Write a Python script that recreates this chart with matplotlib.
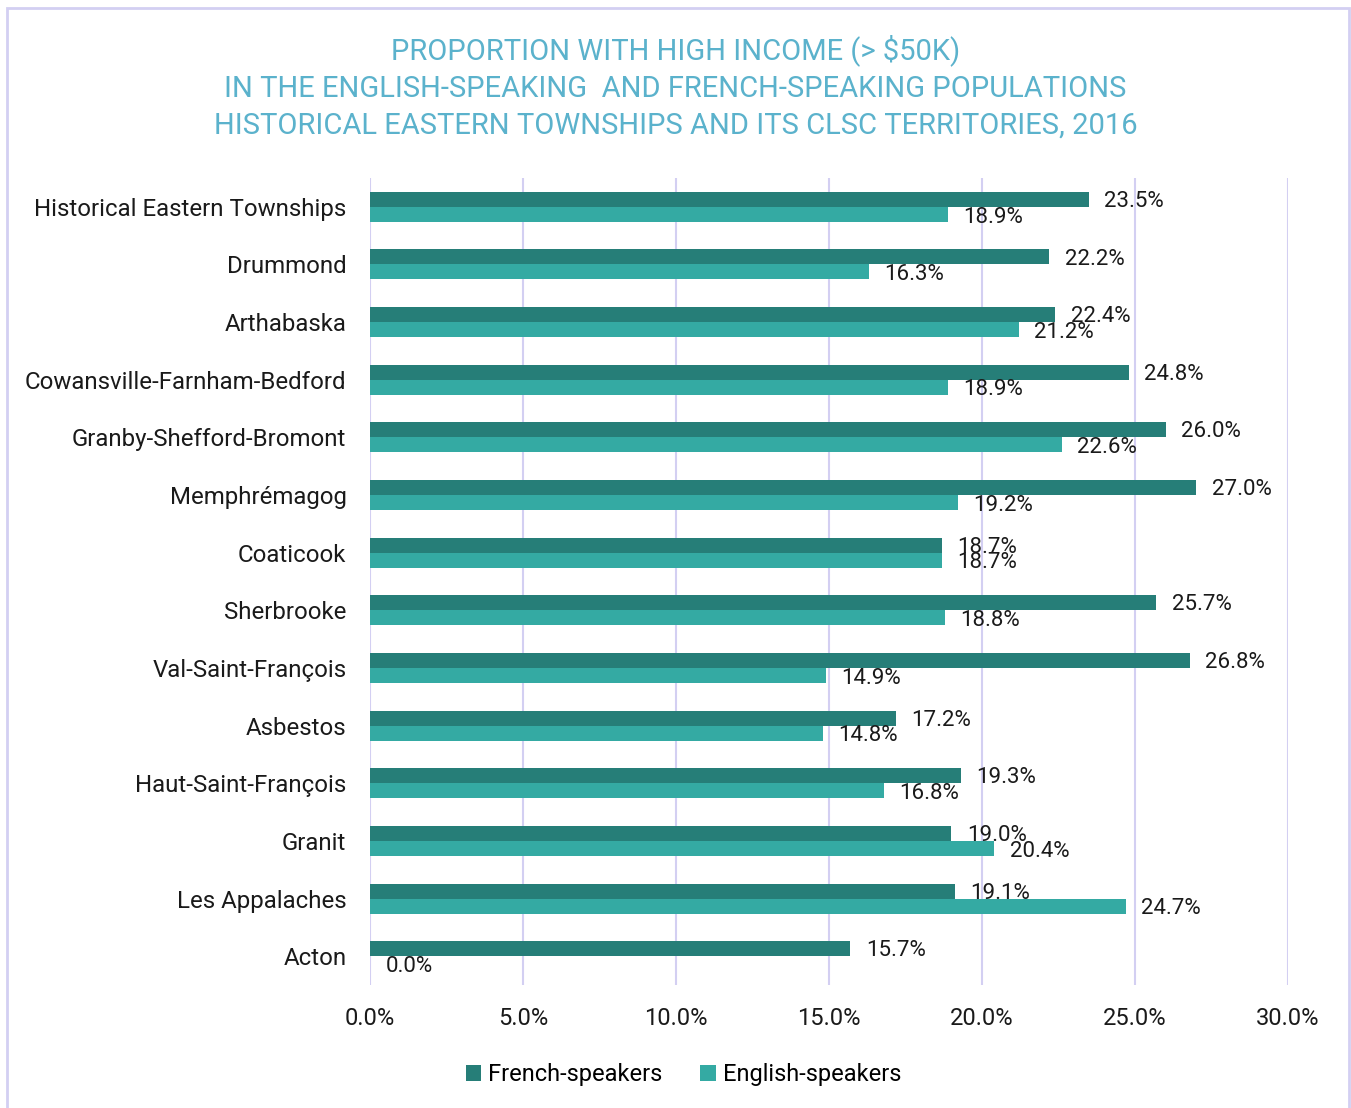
import matplotlib.pyplot as plt
from matplotlib.patches import Rectangle
from matplotlib.ticker import FuncFormatter
import numpy as np

plt.rcParams['font.family'] = ['Roboto', 'DejaVu Sans']

territories = ['Historical Eastern Townships', 'Drummond', 'Arthabaska',
               'Cowansville-Farnham-Bedford', 'Granby-Shefford-Bromont',
               'Memphrémagog', 'Coaticook', 'Sherbrooke', 'Val-Saint-François',
               'Asbestos', 'Haut-Saint-François', 'Granit', 'Les Appalaches', 'Acton']
french = [23.5, 22.2, 22.4, 24.8, 26.0, 27.0, 18.7, 25.7, 26.8, 17.2, 19.3, 19.0, 19.1, 15.7]
english = [18.9, 16.3, 21.2, 18.9, 22.6, 19.2, 18.7, 18.8, 14.9, 14.8, 16.8, 20.4, 24.7, 0.0]

c_fr = '#267e78'
c_en = '#34aaa3'
c_grid = '#d3cff2'
title_col = '#5bb2cc'

fig = plt.figure(figsize=(13.51, 11.08), dpi=100)
ax = fig.add_axes([0.2739, 0.111, 0.6795, 0.7284])

y = np.arange(len(territories))
h = 0.26
ax.barh(y - h / 2, french, height=h, color=c_fr, label='French-speakers', zorder=3)
ax.barh(y + h / 2, english, height=h, color=c_en, label='English-speakers', zorder=3)

# value labels just right of each bar
for i in range(len(territories)):
    ax.annotate(f'{french[i]:.1f}%', (french[i], y[i] - h / 2), xytext=(11, -1.5),
                textcoords='offset points', va='center', ha='left', fontsize=16, color='#1a1a1a')
    ax.annotate(f'{english[i]:.1f}%', (english[i], y[i] + h / 2), xytext=(11, -2),
                textcoords='offset points', va='center', ha='left', fontsize=16, color='#1a1a1a')

ax.set_xlim(0, 30)
ax.set_ylim(len(territories) - 0.5, -0.5)
ax.set_xticks(np.arange(0, 31, 5))
ax.xaxis.set_major_formatter(FuncFormatter(lambda v, p: f'{v:.1f}%'))
ax.set_yticks(y)
ax.set_yticklabels(territories)
ax.tick_params(axis='y', length=0, pad=17, labelsize=17.3, labelcolor='#1a1a1a')
ax.tick_params(axis='x', length=0, pad=16, labelsize=17, labelcolor='#1a1a1a')
ax.grid(axis='x', color=c_grid, linewidth=1.5, zorder=0)
for s in ax.spines.values():
    s.set_visible(False)

fig.text(0.5, 0.9215, 'PROPORTION WITH HIGH INCOME (> $50K)\n'
         'IN THE ENGLISH-SPEAKING  AND FRENCH-SPEAKING POPULATIONS\n'
         'HISTORICAL EASTERN TOWNSHIPS AND ITS CLSC TERRITORIES, 2016',
         ha='center', va='center', fontsize=21, color=title_col, linespacing=1.4)

fig.legend(loc='center', bbox_to_anchor=(0.506, 0.030), ncol=2, frameon=False,
           fontsize=17, handlelength=0.65, handleheight=0.65, handletextpad=0.3,
           columnspacing=1.6)

fig.patches.append(Rectangle((7 / 1351, -0.01), 1342 / 1351, 1 - 8 / 1108 + 0.01,
                             transform=fig.transFigure, fill=False,
                             edgecolor=c_grid, linewidth=2))

fig.savefig('out.png', dpi=100)
